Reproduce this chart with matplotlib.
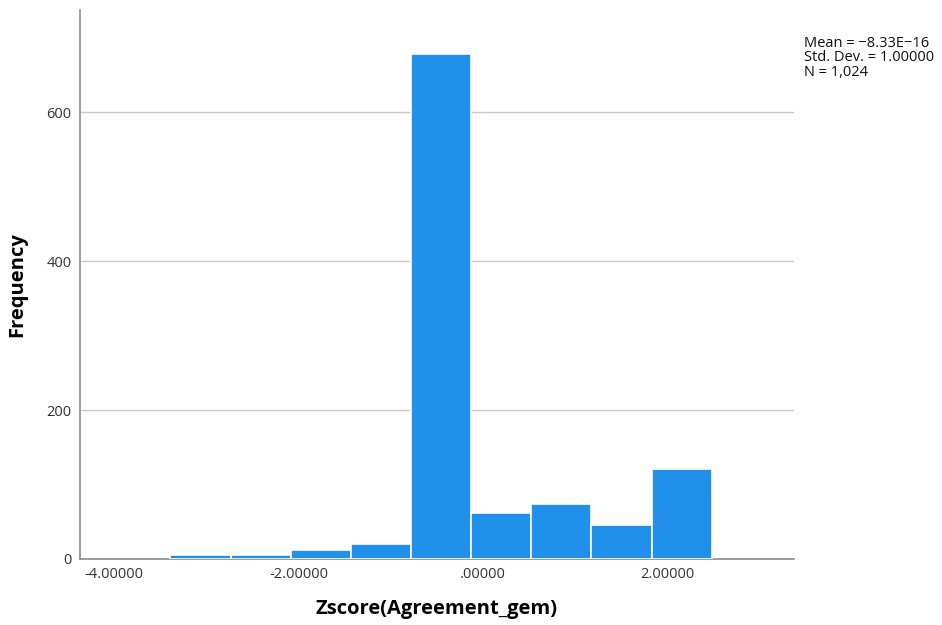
import matplotlib.pyplot as plt

# histogram of standardized agreement scores
bin_start = -3.39
bin_width = 0.652
counts = [6, 6, 12, 20, 678, 62, 74, 45, 121]
x_ticks = [-4.0, -2.0, 0.0, 2.0]
x_tick_labels = ['-4.00000', '-2.00000', '.00000', '2.00000']
y_ticks = [0, 200, 400, 600]
stats_text = 'Mean = \u22128.33E\u221216\nStd. Dev. = 1.00000\nN = 1,024'

BAR_COLOR = '#2190ea'
AXIS_GRAY = '#8c8c8c'

plt.rcParams['font.family'] = ['Open Sans', 'DejaVu Sans']

fig = plt.figure(figsize=(9.42, 6.25), dpi=100)
ax = fig.add_axes([80 / 942, (625 - 559) / 625, (794 - 80) / 942, (559 - 10) / 625])

lefts = [bin_start + i * bin_width for i in range(len(counts))]
ax.bar(lefts, counts, width=bin_width, align='edge', color=BAR_COLOR,
       edgecolor='white', linewidth=1.2, zorder=3)

ax.set_xlim(-4.37, 3.37)
ax.set_ylim(0, 737)
ax.set_xticks(x_ticks)
ax.set_xticklabels(x_tick_labels)
ax.set_yticks(y_ticks)
ax.tick_params(length=0, labelsize=10.5, colors='#333333', pad=6)

ax.yaxis.grid(True, color='#c8c8c8', linewidth=1, zorder=0)
for side in ('top', 'right'):
    ax.spines[side].set_visible(False)
for side in ('left', 'bottom'):
    ax.spines[side].set_color(AXIS_GRAY)
    ax.spines[side].set_linewidth(1.2)

ax.set_xlabel('Zscore(Agreement_gem)', fontsize=14.5, fontweight='bold', labelpad=12)
ax.set_ylabel('Frequency', fontsize=14.5, fontweight='bold', labelpad=14)

fig.text(804 / 942, 1 - 36 / 625, stats_text, fontsize=10.5, va='top', ha='left',
         linespacing=0.95, color='#111111')

fig.savefig('out.png', dpi=100)
